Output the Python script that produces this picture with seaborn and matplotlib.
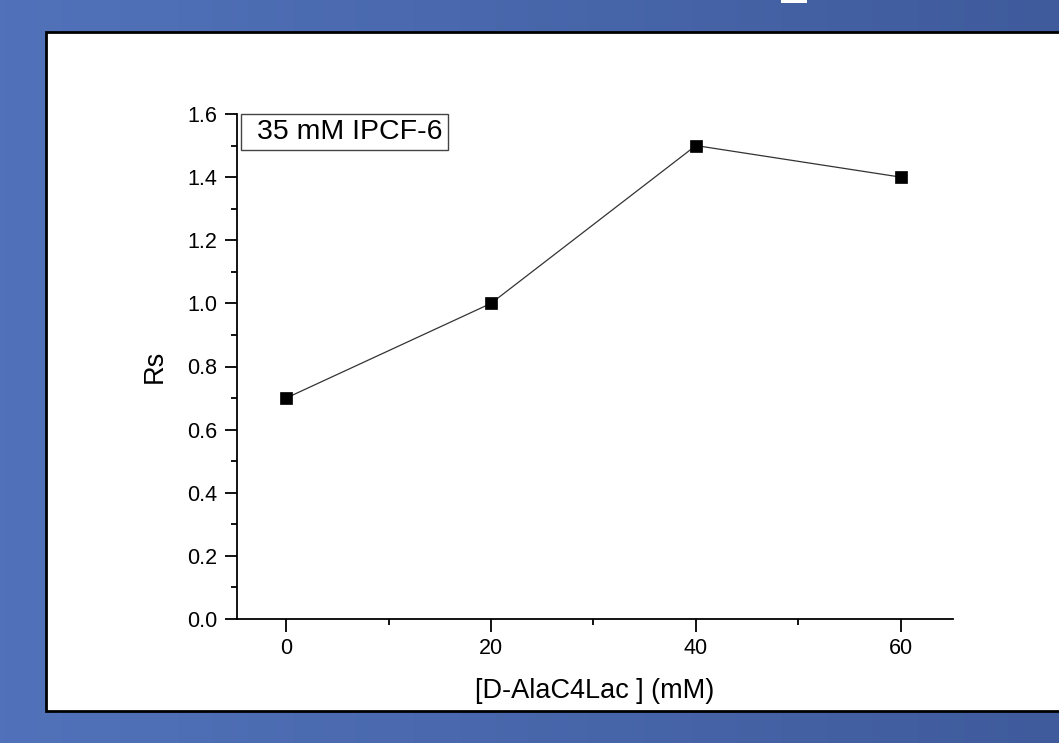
import numpy as np
import matplotlib
matplotlib.use("Agg")
import matplotlib.pyplot as plt
import seaborn as sns
import pandas as pd
from matplotlib.patches import Rectangle
from matplotlib.ticker import MultipleLocator, FormatStrFormatter
from matplotlib.colors import LinearSegmentedColormap

# Data
concentration = [0, 20, 40, 60]
rs_values = [0.7, 1.0, 1.5, 1.4]
x_label = "[D-AlaC4Lac ] (mM)"
y_label = "Rs"
box_label = "35 mM IPCF-6"

df = pd.DataFrame({"conc": concentration, "rs": rs_values})

sns.set_theme(style="ticks")
plt.rcParams["font.family"] = ["Liberation Sans", "DejaVu Sans"]

W, H = 1059, 743
fig = plt.figure(figsize=(W / 100, H / 100), dpi=100)

# Background gradient
bg = fig.add_axes([0, 0, 1, 1], zorder=-10)
grad = np.linspace(0, 1, 256).reshape(1, -1)
cmap = LinearSegmentedColormap.from_list("bg", ["#5172ba", "#3f5b9c"])
bg.imshow(grad, aspect="auto", cmap=cmap, extent=[0, 1, 0, 1])
bg.set_axis_off()
bg.add_patch(Rectangle((781 / W, 1 - 3 / H), 26 / W, 3 / H, transform=fig.transFigure,
                       facecolor="white", edgecolor="none"))
fig.patches.append(Rectangle((46 / W, 1 - 711 / H), 1.1, (711 - 32) / H, transform=fig.transFigure,
                             facecolor="white", edgecolor="black", linewidth=2, zorder=-5))

# Main axes
ax = fig.add_axes([237 / W, 1 - 619 / H, (953 - 237) / W, (619 - 114) / H])
ax.patch.set_alpha(0)

sns.lineplot(data=df, x="conc", y="rs", ax=ax, color="#333333", linewidth=0.9,
             marker="s", markersize=8.5, markerfacecolor="black", markeredgecolor="black",
             markeredgewidth=0.5)

ax.set_xlim(-4.8, 65.1)
ax.set_ylim(0, 1.6)
ax.xaxis.set_major_locator(MultipleLocator(20))
ax.xaxis.set_minor_locator(MultipleLocator(10))
ax.yaxis.set_major_locator(MultipleLocator(0.2))
ax.yaxis.set_minor_locator(MultipleLocator(0.1))
ax.yaxis.set_major_formatter(FormatStrFormatter("%.1f"))

for s in ["top", "right"]:
    ax.spines[s].set_visible(False)
for s in ["left", "bottom"]:
    ax.spines[s].set_color("black")
    ax.spines[s].set_linewidth(1.3)

ax.tick_params(axis="both", which="major", direction="out", length=9, width=1.3,
               color="black", labelsize=15.5, labelcolor="black", pad=5)
ax.tick_params(axis="both", which="minor", direction="out", length=4.5, width=1.3, color="black")

ax.set_xlabel(x_label, fontsize=19.5, color="black", labelpad=13)
ax.set_ylabel(y_label, fontsize=19.5, color="black", labelpad=14)

# label box
ax.add_patch(Rectangle((0.0056, 0.9287), 0.2891, 0.0713, transform=ax.transAxes,
                       facecolor="white", edgecolor="#444444", linewidth=1, clip_on=False, zorder=3))
ax.text(0.0279, 0.9644, box_label, transform=ax.transAxes, fontsize=20.5, color="black",
        ha="left", va="center", zorder=4)

fig.savefig("out.png", dpi=100)
